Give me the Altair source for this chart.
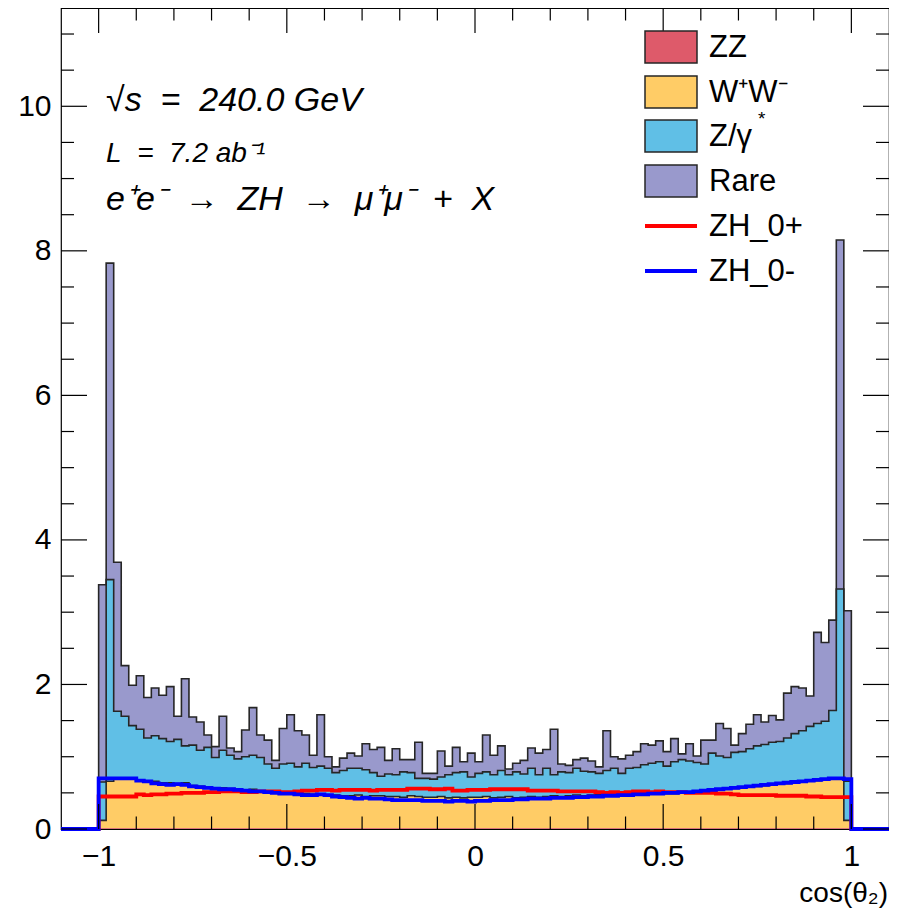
import altair as alt
import pandas as pd

# ---------------- data ----------------
bin_edges = [round(-1.0 + 0.02 * i, 2) for i in range(101)]

# stacked tops (cumulative) per bin, 100 bins of width 0.02 from -1 to 1
zz_top = [
    0.01, 0.01, 0.01, 0.01, 0.01, 0.01, 0.01, 0.01, 0.01, 0.01,
    0.01, 0.01, 0.01, 0.01, 0.01, 0.01, 0.01, 0.01, 0.01, 0.01,
    0.01, 0.01, 0.01, 0.01, 0.01, 0.01, 0.01, 0.01, 0.01, 0.01,
    0.01, 0.01, 0.01, 0.01, 0.01, 0.01, 0.01, 0.01, 0.01, 0.01,
    0.01, 0.01, 0.01, 0.01, 0.01, 0.01, 0.01, 0.01, 0.01, 0.01,
    0.01, 0.01, 0.01, 0.01, 0.01, 0.01, 0.01, 0.01, 0.01, 0.01,
    0.01, 0.01, 0.01, 0.01, 0.01, 0.01, 0.01, 0.01, 0.01, 0.01,
    0.01, 0.01, 0.01, 0.01, 0.01, 0.01, 0.01, 0.01, 0.01, 0.01,
    0.01, 0.01, 0.01, 0.01, 0.01, 0.01, 0.01, 0.01, 0.01, 0.01,
    0.01, 0.01, 0.01, 0.01, 0.01, 0.01, 0.01, 0.01, 0.01, 0.01,
]
ww_top = [
    0.12, 0.66, 0.70, 0.71, 0.69, 0.68, 0.66, 0.66, 0.64, 0.64,
    0.63, 0.64, 0.60, 0.59, 0.58, 0.57, 0.57, 0.56, 0.55, 0.54,
    0.55, 0.53, 0.52, 0.52, 0.51, 0.50, 0.49, 0.49, 0.48, 0.48,
    0.47, 0.47, 0.46, 0.46, 0.47, 0.45, 0.46, 0.46, 0.45, 0.45,
    0.44, 0.46, 0.45, 0.44, 0.44, 0.45, 0.43, 0.44, 0.43, 0.44,
    0.44, 0.45, 0.43, 0.44, 0.45, 0.43, 0.44, 0.45, 0.44, 0.45,
    0.46, 0.45, 0.46, 0.47, 0.46, 0.47, 0.48, 0.47, 0.48, 0.48,
    0.48, 0.48, 0.49, 0.49, 0.49, 0.49, 0.49, 0.50, 0.50, 0.51,
    0.52, 0.53, 0.54, 0.55, 0.56, 0.57, 0.58, 0.59, 0.60, 0.61,
    0.62, 0.63, 0.64, 0.65, 0.66, 0.67, 0.68, 0.69, 0.69, 0.12,
]
zgamma_top = [
    0.65, 3.45, 1.63, 1.56, 1.43, 1.38, 1.26, 1.29, 1.25, 1.21,
    1.24, 1.15, 1.16, 1.09, 1.13, 0.99, 1.09, 1.02, 0.97, 1.00,
    1.02, 0.99, 0.90, 0.84, 0.90, 0.91, 0.86, 0.91, 0.85, 0.87,
    0.84, 0.78, 0.81, 0.84, 0.84, 0.82, 0.78, 0.73, 0.76, 0.75,
    0.79, 0.78, 0.70, 0.70, 0.69, 0.72, 0.75, 0.78, 0.79, 0.72,
    0.77, 0.79, 0.75, 0.81, 0.75, 0.79, 0.76, 0.84, 0.75, 0.84,
    0.75, 0.79, 0.78, 0.84, 0.80, 0.79, 0.77, 0.81, 0.84, 0.77,
    0.84, 0.85, 0.89, 0.91, 0.93, 0.87, 0.93, 0.96, 0.94, 0.92,
    0.90, 1.05, 1.01, 0.99, 1.06, 1.07, 1.11, 1.15, 1.17, 1.20,
    1.21, 1.26, 1.32, 1.36, 1.42, 1.46, 1.49, 1.64, 3.32, 0.66,
]
rare_top = [
    3.38, 7.83, 3.69, 2.26, 1.99, 2.12, 1.82, 1.95, 1.85, 1.97,
    1.56, 2.08, 1.55, 1.48, 1.30, 1.14, 1.56, 1.12, 1.07, 1.37,
    1.68, 1.30, 1.23, 0.95, 1.39, 1.58, 1.36, 1.30, 1.02, 1.58,
    1.00, 0.86, 0.98, 1.05, 1.01, 1.18, 1.10, 1.13, 0.95, 1.11,
    0.96, 0.96, 1.20, 0.77, 0.77, 1.08, 0.87, 1.13, 0.93, 1.05,
    0.93, 1.30, 1.02, 1.15, 0.83, 0.91, 0.95, 1.12, 1.05, 1.10,
    1.38, 0.90, 0.88, 0.96, 0.98, 0.94, 0.86, 1.36, 1.00, 0.97,
    1.02, 1.07, 1.18, 1.16, 1.22, 1.07, 1.25, 1.04, 1.18, 1.01,
    1.23, 1.23, 1.46, 1.39, 1.16, 1.32, 1.45, 1.58, 1.48, 1.57,
    1.51, 1.88, 1.97, 1.95, 1.84, 2.72, 2.58, 2.89, 8.15, 3.02,
]
zh_0plus = [
    0.45, 0.45, 0.45, 0.45, 0.45, 0.48, 0.47, 0.48, 0.48, 0.49,
    0.49, 0.50, 0.50, 0.50, 0.51, 0.51, 0.52, 0.52, 0.52, 0.51,
    0.51, 0.52, 0.52, 0.52, 0.51, 0.51, 0.52, 0.53, 0.53, 0.54,
    0.54, 0.53, 0.54, 0.54, 0.54, 0.54, 0.53, 0.54, 0.54, 0.54,
    0.54, 0.56, 0.56, 0.56, 0.55, 0.55, 0.56, 0.53, 0.53, 0.54,
    0.54, 0.54, 0.55, 0.55, 0.55, 0.55, 0.55, 0.53, 0.53, 0.53,
    0.53, 0.52, 0.52, 0.52, 0.52, 0.52, 0.51, 0.50, 0.51, 0.50,
    0.51, 0.52, 0.52, 0.51, 0.52, 0.51, 0.51, 0.51, 0.50, 0.50,
    0.50, 0.50, 0.49, 0.49, 0.48, 0.47, 0.47, 0.47, 0.47, 0.47,
    0.46, 0.46, 0.46, 0.46, 0.45, 0.45, 0.44, 0.44, 0.44, 0.44,
]
zh_0minus = [
    0.70, 0.70, 0.70, 0.70, 0.70, 0.67, 0.66, 0.63, 0.62, 0.61,
    0.62, 0.61, 0.59, 0.58, 0.57, 0.56, 0.55, 0.55, 0.54, 0.53,
    0.52, 0.52, 0.51, 0.50, 0.49, 0.49, 0.48, 0.47, 0.47, 0.48,
    0.47, 0.45, 0.44, 0.43, 0.42, 0.43, 0.42, 0.42, 0.41, 0.40,
    0.40, 0.40, 0.40, 0.39, 0.39, 0.39, 0.38, 0.39, 0.39, 0.38,
    0.39, 0.39, 0.40, 0.40, 0.40, 0.41, 0.41, 0.42, 0.42, 0.42,
    0.43, 0.43, 0.43, 0.44, 0.44, 0.45, 0.45, 0.46, 0.46, 0.47,
    0.47, 0.48, 0.48, 0.49, 0.49, 0.50, 0.50, 0.51, 0.51, 0.52,
    0.53, 0.54, 0.55, 0.56, 0.57, 0.58, 0.59, 0.60, 0.61, 0.62,
    0.63, 0.64, 0.65, 0.66, 0.67, 0.68, 0.69, 0.70, 0.70, 0.69,
]

x_major_ticks = [-1.0, -0.5, 0.0, 0.5, 1.0]
x_minor_ticks = [-0.9, -0.8, -0.7, -0.6, -0.4, -0.3, -0.2, -0.1,
                 0.1, 0.2, 0.3, 0.4, 0.6, 0.7, 0.8, 0.9]
y_major_ticks = [0, 2, 4, 6, 8, 10]
y_minor_ticks = [0.5, 1, 1.5, 2.5, 3, 3.5, 4.5, 5, 5.5, 6.5, 7, 7.5,
                 8.5, 9, 9.5, 10.5, 11]

# ---------------- layout / style ----------------
W, H = 828, 821
FONT = "Liberation Sans"
C_ZZ, C_WW, C_ZG, C_RARE = "#de5a6a", "#ffcc66", "#60bfe6", "#9999cc"
OUTLINE = "#262626"
NB = "\u00a0"

xs = alt.Scale(domain=[-1.1, 1.1], nice=False, zero=False)
ys = alt.Scale(domain=[0, 11.36], nice=False, zero=False)
x_axis = alt.Axis(values=x_major_ticks, format="~g", title=None, ticks=False, tickSize=0,
                  domain=False, grid=False, labelFontSize=30, labelPadding=12,
                  labelFont=FONT, labelColor="black")
y_axis = alt.Axis(values=y_major_ticks, title=None, ticks=False, tickSize=0,
                  domain=False, grid=False, labelFontSize=30, labelPadding=10,
                  labelFont=FONT, labelColor="black")


def X(field):
    return alt.X(field, type="quantitative", scale=xs, axis=x_axis)


def Y(field):
    return alt.Y(field, type="quantitative", scale=ys, axis=y_axis)


def area_df(top, bottom):
    xv = bin_edges[:-1] + [bin_edges[-1]]
    tv = list(top) + [top[-1]]
    bv = list(bottom) + [bottom[-1]]
    return pd.DataFrame({"x": xv, "top": tv, "bot": bv})


def outline_df(vals):
    xv = [bin_edges[0]] + bin_edges[:-1] + [bin_edges[-1], bin_edges[-1]]
    yv = [0.0] + list(vals) + [vals[-1], 0.0]
    return pd.DataFrame({"x": xv, "y": yv, "i": list(range(len(xv)))})


def zh_df(vals):
    xv = [-1.1] + bin_edges[:-1] + [bin_edges[-1], 1.1]
    yv = [0.0] + list(vals) + [0.0, 0.0]
    return pd.DataFrame({"x": xv, "y": yv, "i": list(range(len(xv)))})


zero = [0.0] * 100
layers = []
for top, bot, col in [(rare_top, zgamma_top, C_RARE), (zgamma_top, ww_top, C_ZG),
                      (ww_top, zz_top, C_WW), (zz_top, zero, C_ZZ)]:
    layers.append(
        alt.Chart(area_df(top, bot)).mark_area(interpolate="step-after", color=col, opacity=1)
        .encode(x=X("x"), y=Y("top"), y2="bot:Q")
    )
for top in [rare_top, zgamma_top, ww_top]:
    layers.append(
        alt.Chart(outline_df(top)).mark_line(interpolate="step-after", color=OUTLINE,
                                             strokeWidth=1.6)
        .encode(x=X("x"), y=Y("y"), order="i:Q")
    )
for vals, col in [(zh_0plus, "#ff0000"), (zh_0minus, "#0000ff")]:
    layers.append(
        alt.Chart(zh_df(vals)).mark_line(interpolate="step-after", color=col, strokeWidth=3.8)
        .encode(x=X("x"), y=Y("y"), order="i:Q")
    )

# inward ticks on all four sides
def xt(vals, y0, y1):
    return alt.Chart(pd.DataFrame({"t": vals})).mark_rule(color="black", strokeWidth=1.2).encode(
        x=X("t"), y=alt.value(y0), y2=alt.value(y1))


def yt(vals, x0, x1):
    return alt.Chart(pd.DataFrame({"t": vals})).mark_rule(color="black", strokeWidth=1.2).encode(
        y=Y("t"), x=alt.value(x0), x2=alt.value(x1))


layers += [
    xt(x_major_ticks, H, H - 25), xt(x_minor_ticks, H, H - 12.5),
    xt(x_major_ticks, 0, 25), xt(x_minor_ticks, 0, 12.5),
    yt(y_major_ticks, 0, 26), yt(y_minor_ticks, 0, 13),
    yt(y_major_ticks, W, W - 26), yt(y_minor_ticks, W, W - 13),
]

one = pd.DataFrame({"a": [0]})


def txt(s, x, y, size, italic=False, align="left", baseline="alphabetic"):
    kw = dict(text=s, fontSize=size, font=FONT, align=align, baseline=baseline, color="black")
    if italic:
        kw["fontStyle"] = "italic"
    return alt.Chart(one).mark_text(**kw).encode(x=alt.value(x), y=alt.value(y))


# annotations
layers += [
    txt("√s" + NB * 2 + "=" + NB * 2 + "240.0 GeV", 45, 103, 34, italic=True),
    txt("L" + NB * 2 + "=" + NB * 2 + "7.2 ab⁻¹", 45, 154, 28, italic=True),
    txt("e⁺e⁻" + NB * 2 + "→" + NB * 2 + "ZH" + NB * 2 + "→" + NB * 2 + "μ⁺μ⁻"
        + NB * 2 + "+" + NB * 2 + "X", 45, 202, 34, italic=True),
    txt("cos(θ₂)", W - 1, 894, 28, align="right"),
]

# legend
legend_fill = [("ZZ", C_ZZ, 39), ("W⁺W⁻", C_WW, 84), ("Z/γ", C_ZG, 128), ("Rare", C_RARE, 173)]
for lab, col, cy in legend_fill:
    layers.append(
        alt.Chart(one).mark_rect(color=col, stroke=OUTLINE, strokeWidth=1.5).encode(
            x=alt.value(584), x2=alt.value(636), y=alt.value(cy - 16), y2=alt.value(cy + 16))
    )
    layers.append(txt(lab, 648, cy + 1, 31, baseline="middle"))
layers.append(txt("*", 697, 117, 19))
for lab, col, cy in [("ZH_0+", "#ff0000", 218), ("ZH_0-", "#0000ff", 263)]:
    layers.append(
        alt.Chart(one).mark_rule(color=col, strokeWidth=3.8).encode(
            x=alt.value(584), x2=alt.value(636), y=alt.value(cy))
    )
    layers.append(txt(lab, 648, cy + 1, 31, baseline="middle"))

chart = alt.layer(*layers).properties(
    width=W, height=H,
    autosize=alt.AutoSizeParams(type="none"),
    padding={"left": 53, "top": 0, "right": 0, "bottom": 79},
).configure_view(stroke="black", strokeWidth=1.2)

chart.save("out.html", embed_options={"renderer": "svg", "actions": False})
